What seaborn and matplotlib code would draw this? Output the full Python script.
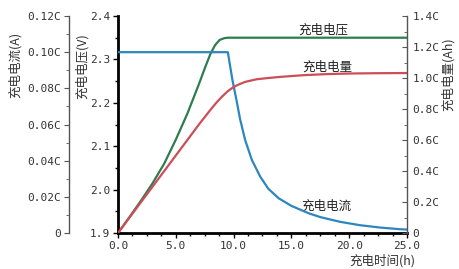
import matplotlib
matplotlib.use("Agg")
import matplotlib.pyplot as plt
import seaborn as sns
from matplotlib.ticker import MultipleLocator, FuncFormatter

# ---- data ----
volt_t = [0, 1, 2, 3, 4, 5, 6, 7, 7.5, 8, 8.4, 8.8, 9.2, 9.5, 25]
volt_v = [1.9, 1.937, 1.975, 2.015, 2.06, 2.115, 2.175, 2.243, 2.279, 2.313, 2.333, 2.345, 2.349, 2.35, 2.35]

curr_t = [0, 9.5, 9.9, 10.27, 10.56, 11.0, 11.58, 12.3, 13.0, 13.9, 15.0, 16.5, 17.5, 19.2, 20.95,
          22.7, 24.4, 25]
curr_i = [0.100, 0.100, 0.0846, 0.0728, 0.0630, 0.0514, 0.0404, 0.0312, 0.0245, 0.0192, 0.0150,
          0.0109, 0.0088, 0.0062, 0.0043, 0.0030, 0.0021, 0.0019]

chg_t = [0, 2, 4, 6, 7, 8, 8.5, 9, 9.5, 10, 10.5, 11, 12, 13, 14, 16, 18, 20, 22.5, 25]
chg_q = [0, 0.2, 0.4, 0.6, 0.7, 0.795, 0.84, 0.88, 0.915, 0.942, 0.96, 0.975, 0.992, 1.0, 1.007,
         1.018, 1.025, 1.029, 1.031, 1.032]

x_ticks = [0, 5, 10, 15, 20, 25]
labels = {"volt": "充电电压", "charge": "充电电量", "current": "充电电流"}
xlabel = "充电时间(h)"
ylabel_curr = "充电电流(A)"
ylabel_volt = "充电电压(V)"
ylabel_chg = "充电电量(Ah)"

sns.set_style("white")
plt.rcParams["font.family"] = ["Noto Sans CJK SC", "DejaVu Sans"]

c_green = "#2e7d50"
c_red = "#cc4e57"
c_blue = "#2c86c0"
c_gray = "#555555"

fig = plt.figure(figsize=(4.6, 2.69), dpi=100)
ax = fig.add_axes([0.2565, 0.1338, 0.6283, 0.8067])
ax_i = ax.twinx()
ax_q = ax.twinx()

sns.lineplot(x=volt_t, y=volt_v, ax=ax, color=c_green, lw=1.6)
sns.lineplot(x=curr_t, y=curr_i, ax=ax_i, color=c_blue, lw=1.6)
sns.lineplot(x=chg_t, y=chg_q, ax=ax_q, color=c_red, lw=1.6)

ax.set_xlim(0, 25)
ax.set_ylim(1.9, 2.4)
ax_i.set_ylim(0, 0.12)
ax_q.set_ylim(0, 1.4)

mono = ["DejaVu Sans Mono"]

# main axes (voltage)
for s in ["top", "right"]:
    ax.spines[s].set_visible(False)
for s in ["left", "bottom"]:
    ax.spines[s].set_color("black")
    ax.spines[s].set_linewidth(2)
ax.set_xticks(x_ticks)
ax.xaxis.set_minor_locator(MultipleLocator(1.25))
ax.yaxis.set_major_locator(MultipleLocator(0.1))
ax.yaxis.set_minor_locator(MultipleLocator(0.05))
ax.xaxis.set_major_formatter(FuncFormatter(lambda v, p: f"{v:.1f}"))
ax.yaxis.set_major_formatter(FuncFormatter(lambda v, p: f"{v:.1f}"))
ax.tick_params(axis="both", which="major", direction="out", length=3.5, width=1, color="black",
               labelsize=8, labelcolor="#333333", pad=2, left=True, bottom=True)
ax.tick_params(axis="both", which="minor", direction="out", length=2, width=1, color="black",
               left=True, bottom=True)
for lab in ax.get_xticklabels() + ax.get_yticklabels():
    lab.set_family(mono)

# current axis (outer left)
for s in ["top", "right", "bottom"]:
    ax_i.spines[s].set_visible(False)
ax_i.spines["left"].set_visible(True)
ax_i.spines["left"].set_position(("axes", -0.17))
ax_i.spines["left"].set_color(c_gray)
ax_i.spines["left"].set_linewidth(1)
ax_i.yaxis.set_ticks_position("left")
ax_i.yaxis.set_label_position("left")
ax_i.yaxis.set_major_locator(MultipleLocator(0.02))
ax_i.yaxis.set_minor_locator(MultipleLocator(0.01))
ax_i.yaxis.set_major_formatter(FuncFormatter(lambda v, p: "0" if abs(v) < 1e-9 else f"{v:.2f}C"))
ax_i.tick_params(axis="y", which="major", direction="out", length=3.5, color=c_gray,
                 labelsize=8, labelcolor="#333333", pad=2)
ax_i.tick_params(axis="y", which="minor", direction="out", length=2, color=c_gray)
for lab in ax_i.get_yticklabels():
    lab.set_family(mono)

# charge axis (right)
for s in ["top", "left", "bottom"]:
    ax_q.spines[s].set_visible(False)
ax_q.spines["right"].set_color(c_gray)
ax_q.spines["right"].set_linewidth(1)
ax_q.yaxis.set_major_locator(MultipleLocator(0.2))
ax_q.yaxis.set_minor_locator(MultipleLocator(0.1))
ax_q.yaxis.set_major_formatter(FuncFormatter(lambda v, p: "0" if abs(v) < 1e-9 else f"{v:.1f}C"))
ax_q.tick_params(axis="y", which="major", direction="in", length=3.5, color=c_gray,
                 labelsize=8, labelcolor="#333333", pad=4)
ax_q.tick_params(axis="y", which="minor", direction="in", length=2, color=c_gray)
for lab in ax_q.get_yticklabels():
    lab.set_family(mono)

# axis labels
lab_kw = dict(fontsize=9, color="#333333")
ax_i.set_ylabel(ylabel_curr, rotation=90, **lab_kw)
ax_i.yaxis.label.set_va("center")
ax_i.yaxis.set_label_coords(-0.356, 0.774)
ax.set_ylabel(ylabel_volt, rotation=90, **lab_kw)
ax.yaxis.label.set_va("center")
ax.yaxis.set_label_coords(-0.125, 0.77)
ax_q.set_ylabel(ylabel_chg, rotation=90, **lab_kw)
ax_q.yaxis.label.set_va("center")
ax_q.yaxis.set_label_coords(1.142, 0.733)
ax.set_xlabel(xlabel, **lab_kw)
ax.xaxis.label.set_ha("right")
ax.xaxis.label.set_va("center")
ax.xaxis.set_label_coords(1.03, -0.13)

# curve annotations
ann_kw = dict(fontsize=9, color="#222222", ha="center", va="center")
ax.text(17.75, 2.368, labels["volt"], **ann_kw)
ax.text(18.1, 2.2825, labels["charge"], **ann_kw)
ax.text(18.0, 1.962, labels["current"], **ann_kw)

fig.savefig("out.png", dpi=100)
